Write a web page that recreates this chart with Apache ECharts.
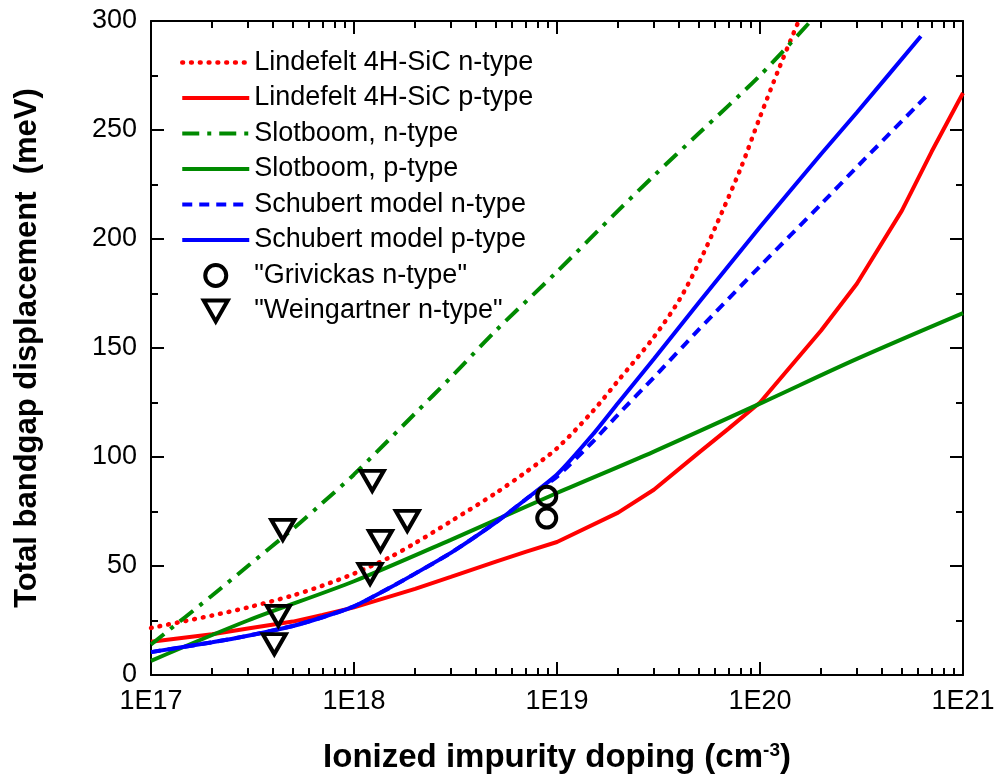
<!DOCTYPE html>
<html>
<head>
<meta charset="utf-8">
<script src="https://cdn.jsdelivr.net/npm/echarts@6/dist/echarts.min.js"></script>
<style>
  html, body { margin: 0; padding: 0; background: #fff; }
  #chart { width: 997px; height: 778px; }
</style>
</head>
<body>
<div id="chart"></div>
<script>
// Doping (cm^-3) vs total bandgap displacement (meV), pairs [N, meV]
const lindefeltN = [[1e17,21.6],[2e17,27.3],[3e17,31],[5e17,36.5],[7e17,41],[1e18,46.5],[1.5e18,54],[2e18,60.5],[3e18,70.5],[5e18,83.5],[7e18,93],[1e19,104],[1.5e19,121],[2e19,135],[3e19,155],[4e19,172],[5e19,189],[6e19,205],[8e19,232],[1e20,256],[1.25e20,279],[1.55e20,300]];
const lindefeltP = [[1e17,15.3],[2e17,18.7],[3e17,21.3],[5e17,24.5],[7e17,27.5],[1e18,31],[2e18,39.5],[3e18,45],[5e18,52],[7e18,56.5],[1e19,61],[2e19,74.5],[3e19,85],[5e19,102],[7e19,113],[1e20,125],[2e20,158],[3e20,179.5],[5e20,213],[7e20,240],[1e21,267]];
const slotboomN = [[1e17,14],[2e17,36.5],[3e17,50],[5e17,67],[7e17,79],[1e18,92],[2e18,120],[3e18,136.5],[5e18,158],[1e19,185],[2e19,213],[3e19,229],[5e19,248.5],[1e20,275],[1.78e20,300]];
const slotboomP = [[1e17,6.5],[3e17,25],[1e18,43],[3e18,62],[1e19,83.5],[3e19,102.5],[1e20,124.5],[3e20,145],[1e21,166]];
const schubertN = [[1e17,10.5],[2e17,15],[3e17,18],[5e17,22.5],[7e17,26.5],[1e18,31.5],[1.5e18,40],[2e18,46.5],[3e18,56],[5e18,70],[7e18,80.5],[1e19,91],[1.5e19,107],[2e19,119.5],[3e19,136.5],[5e19,158.5],[1e20,187.5],[2e20,216],[3e20,233],[6.6e20,265.5]];
const schubertP = [[1e17,10.5],[2e17,15],[3e17,18],[5e17,22.5],[7e17,26.5],[1e18,31.5],[1.5e18,40],[2e18,46.5],[3e18,56],[5e18,70],[7e18,80.5],[1e19,92],[1.5e19,110.3],[2e19,124.8],[3e19,145],[5e19,170.9],[1e20,205.5],[2e20,239],[3e20,258],[6.2e20,293]];
const grivickas = [[8.9e18,82],[8.9e18,72]];
const weingartner = [[4.46e17,66.6],[4.24e17,27.1],[4.05e17,14.2],[1.23e18,89.1],[1.83e18,70.7],[1.35e18,61.5],[1.2e18,46.4]];

const dopingLabels = ['1E17','1E18','1E19','1E20','1E21'];
const energyTicks = [0,50,100,150,200,250,300];

// minor decade ticks 2..9 x 10^n
const minorDoping = [];
for (let e = 17; e < 21; e++) for (let m = 2; m <= 9; m++) minorDoping.push(m * Math.pow(10, e));

const FONT = "'Liberation Sans', Arial, Helvetica, sans-serif";
const BLACK = '#000';
const RED = '#ff0000', GREEN = '#008a00', BLUE = '#0000ff';
const LW = 4;

const gridBox = { left: 151, right: 34, top: 21, bottom: 103, containLabel: false, outerBoundsMode: 'none' };

const majorTick = { show: true, inside: true, length: 13, lineStyle: { color: BLACK, width: 2 } };
const minorTickStyle = { color: BLACK, width: 2 };
const axisLine = { show: true, onZero: false, lineStyle: { color: BLACK, width: 2 } };

function decadeLabel(v) {
  const k = Math.round(Math.log10(v)) - 17;
  return dopingLabels[k] || '';
}

const chart = echarts.init(document.getElementById('chart'), null, { renderer: 'canvas' });

function lineSeries(name, data, color, type, cap, smooth, width) {
  return {
    type: 'line', name, data, xAxisIndex: 0, yAxisIndex: 0,
    symbol: 'circle', symbolSize: 0, showSymbol: false, smooth: smooth, clip: true,
    lineStyle: { color, width: width || LW, type, cap: cap || 'butt' },
    // legend marker for a line entry stays invisible: only the stroke shows
    itemStyle: { color: 'transparent', borderWidth: 0, opacity: 0 },
    emphasis: { disabled: true },
    z: 3
  };
}

const markerStyle = { color: 'transparent', borderColor: BLACK, borderWidth: 4, opacity: 1 };

chart.setOption({
  animation: false,
  backgroundColor: '#fff',
  textStyle: { fontFamily: FONT },
  grid: [Object.assign({}, gridBox), Object.assign({}, gridBox)],
  legend: {
    orient: 'vertical', left: 175, top: 44, padding: 5,
    itemWidth: 67, itemHeight: 21, itemGap: 8.5,
    selectedMode: false,
    textStyle: { fontFamily: FONT, fontSize: 27, color: BLACK, lineHeight: 26 },
    lineStyle: { width: 'inherit', type: 'inherit', cap: 'inherit' },
    data: [
      'Lindefelt 4H-SiC n-type', 'Lindefelt 4H-SiC p-type', 'Slotboom, n-type', 'Slotboom, p-type',
      'Schubert model n-type', 'Schubert model p-type',
      { name: '"Grivickas n-type"', itemStyle: { borderWidth: 4, borderColor: BLACK, color: 'transparent', opacity: 1 } },
      { name: '"Weingartner n-type"', itemStyle: { borderWidth: 4, borderColor: BLACK, color: 'transparent', opacity: 1 } }
    ]
  },
  xAxis: [
    {
      gridIndex: 0, type: 'log', logBase: 10, min: 1e17, max: 1e21, position: 'bottom',
      axisLine, axisTick: majorTick, splitLine: { show: false },
      axisLabel: { formatter: decadeLabel, fontFamily: FONT, fontSize: 27, color: BLACK, margin: 13 },
      name: 'Ionized impurity doping (cm{sup|-3})', nameLocation: 'middle', nameGap: 66,
      nameTextStyle: {
        fontFamily: FONT, fontSize: 33, fontWeight: 'bold', color: BLACK,
        rich: { sup: { fontFamily: FONT, fontSize: 19, fontWeight: 'bold', color: BLACK, verticalAlign: 'top' } }
      }
    },
    {
      gridIndex: 0, type: 'log', logBase: 10, min: 1e17, max: 1e21, position: 'top',
      axisLine, axisTick: majorTick, axisLabel: { show: false }, splitLine: { show: false }
    },
    {
      gridIndex: 1, type: 'log', logBase: 10, min: 1e17, max: 1e21, position: 'bottom',
      axisLine: { show: false },
      axisTick: { show: true, inside: true, length: 7, customValues: minorDoping, lineStyle: minorTickStyle },
      axisLabel: { show: false }, splitLine: { show: false }
    },
    {
      gridIndex: 1, type: 'log', logBase: 10, min: 1e17, max: 1e21, position: 'top',
      axisLine: { show: false },
      axisTick: { show: true, inside: true, length: 7, customValues: minorDoping, lineStyle: minorTickStyle },
      axisLabel: { show: false }, splitLine: { show: false }
    }
  ],
  yAxis: [
    {
      gridIndex: 0, type: 'value', min: 0, max: 300, interval: 50, position: 'left',
      axisLine, axisTick: majorTick,
      minorTick: { show: true, splitNumber: 2, length: 7, lineStyle: minorTickStyle },
      splitLine: { show: false }, minorSplitLine: { show: false },
      axisLabel: { fontFamily: FONT, fontSize: 27, color: BLACK, margin: 14,
        formatter: v => (energyTicks.indexOf(v) >= 0 ? String(v) : '') },
      name: 'Total bandgap displacement  (meV)', nameLocation: 'middle', nameGap: 108, nameRotate: 90,
      nameTextStyle: { fontFamily: FONT, fontSize: 31, fontWeight: 'bold', color: BLACK }
    },
    {
      gridIndex: 0, type: 'value', min: 0, max: 300, interval: 50, position: 'right',
      axisLine, axisTick: majorTick,
      minorTick: { show: true, splitNumber: 2, length: 7, lineStyle: minorTickStyle },
      splitLine: { show: false }, axisLabel: { show: false }
    },
    { gridIndex: 1, type: 'value', min: 0, max: 300, show: false }
  ],
  series: [
    lineSeries('Lindefelt 4H-SiC n-type', lindefeltN, RED, [0.8, 8], 'round', 0.3, 4.5),
    lineSeries('Lindefelt 4H-SiC p-type', lindefeltP, RED, 'solid', 'butt', false),
    lineSeries('Slotboom, n-type', slotboomN, GREEN, [17, 8, 4, 8], 'butt', 0.3),
    lineSeries('Slotboom, p-type', slotboomP, GREEN, 'solid', 'butt', 0.3),
    lineSeries('Schubert model n-type', schubertN, BLUE, [10, 7], 'butt', 0.2),
    lineSeries('Schubert model p-type', schubertP, BLUE, 'solid', 'butt', 0.2),
    {
      type: 'scatter', name: '"Grivickas n-type"', data: grivickas, xAxisIndex: 0, yAxisIndex: 0,
      symbol: 'circle', symbolSize: 19, z: 5, itemStyle: markerStyle, emphasis: { disabled: true }
    },
    {
      type: 'scatter', name: '"Weingartner n-type"', data: weingartner, xAxisIndex: 0, yAxisIndex: 0,
      symbol: 'path://M0,0 L24,0 L12,21 Z', symbolSize: [23, 20], z: 5,
      itemStyle: Object.assign({ borderJoin: 'miter' }, markerStyle), emphasis: { disabled: true }
    }
  ]
});
</script>
</body>
</html>
